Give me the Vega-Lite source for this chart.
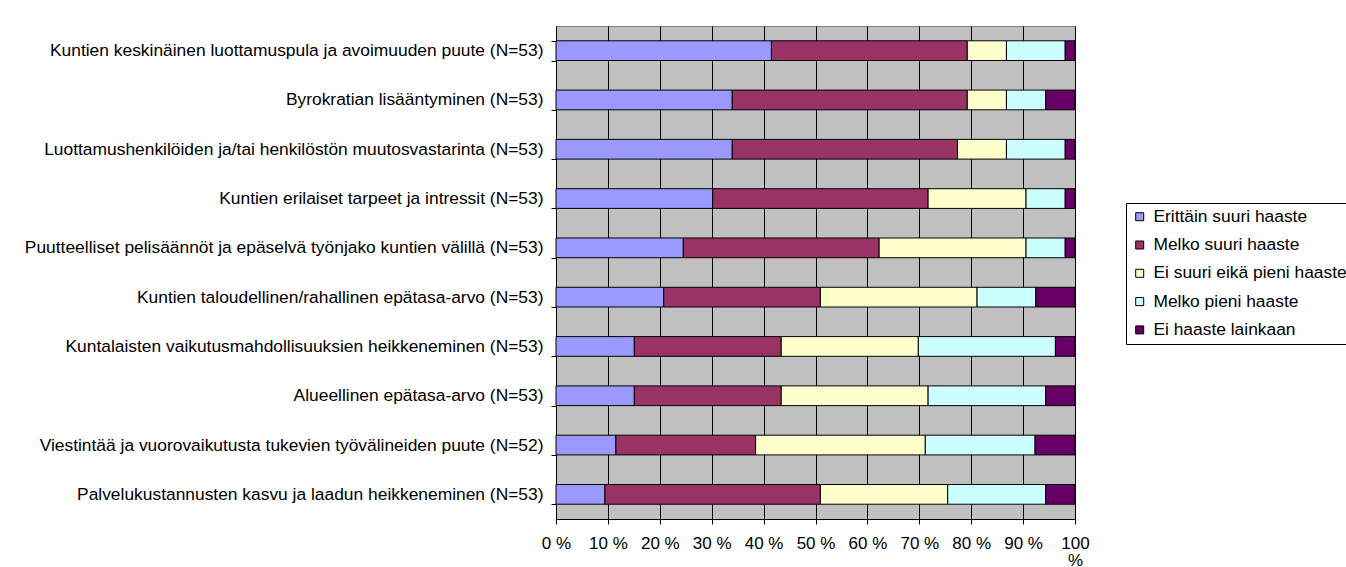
{
  "$schema": "https://vega.github.io/schema/vega-lite/v6.json",
  "width": 519,
  "height": 493,
  "autosize": {"type": "none"},
  "padding": {"left": 556, "top": 26, "right": 271, "bottom": 48},
  "background": "white",
  "config": {
    "font": "Liberation Sans",
    "view": {"fill": "#C0C0C0", "stroke": "#808080", "strokeWidth": 1}
  },
  "data": {
    "values": [
      {"kysymys": "Kuntien keskinäinen luottamuspula ja avoimuuden puute (N=53)", "vastaus": "Erittäin suuri haaste", "taso": 1, "lkm": 22},
      {"kysymys": "Kuntien keskinäinen luottamuspula ja avoimuuden puute (N=53)", "vastaus": "Melko suuri haaste", "taso": 2, "lkm": 20},
      {"kysymys": "Kuntien keskinäinen luottamuspula ja avoimuuden puute (N=53)", "vastaus": "Ei suuri eikä pieni haaste", "taso": 3, "lkm": 4},
      {"kysymys": "Kuntien keskinäinen luottamuspula ja avoimuuden puute (N=53)", "vastaus": "Melko pieni haaste", "taso": 4, "lkm": 6},
      {"kysymys": "Kuntien keskinäinen luottamuspula ja avoimuuden puute (N=53)", "vastaus": "Ei haaste lainkaan", "taso": 5, "lkm": 1},
      {"kysymys": "Byrokratian lisääntyminen (N=53)", "vastaus": "Erittäin suuri haaste", "taso": 1, "lkm": 18},
      {"kysymys": "Byrokratian lisääntyminen (N=53)", "vastaus": "Melko suuri haaste", "taso": 2, "lkm": 24},
      {"kysymys": "Byrokratian lisääntyminen (N=53)", "vastaus": "Ei suuri eikä pieni haaste", "taso": 3, "lkm": 4},
      {"kysymys": "Byrokratian lisääntyminen (N=53)", "vastaus": "Melko pieni haaste", "taso": 4, "lkm": 4},
      {"kysymys": "Byrokratian lisääntyminen (N=53)", "vastaus": "Ei haaste lainkaan", "taso": 5, "lkm": 3},
      {"kysymys": "Luottamushenkilöiden ja/tai henkilöstön muutosvastarinta (N=53)", "vastaus": "Erittäin suuri haaste", "taso": 1, "lkm": 18},
      {"kysymys": "Luottamushenkilöiden ja/tai henkilöstön muutosvastarinta (N=53)", "vastaus": "Melko suuri haaste", "taso": 2, "lkm": 23},
      {"kysymys": "Luottamushenkilöiden ja/tai henkilöstön muutosvastarinta (N=53)", "vastaus": "Ei suuri eikä pieni haaste", "taso": 3, "lkm": 5},
      {"kysymys": "Luottamushenkilöiden ja/tai henkilöstön muutosvastarinta (N=53)", "vastaus": "Melko pieni haaste", "taso": 4, "lkm": 6},
      {"kysymys": "Luottamushenkilöiden ja/tai henkilöstön muutosvastarinta (N=53)", "vastaus": "Ei haaste lainkaan", "taso": 5, "lkm": 1},
      {"kysymys": "Kuntien erilaiset tarpeet ja intressit (N=53)", "vastaus": "Erittäin suuri haaste", "taso": 1, "lkm": 16},
      {"kysymys": "Kuntien erilaiset tarpeet ja intressit (N=53)", "vastaus": "Melko suuri haaste", "taso": 2, "lkm": 22},
      {"kysymys": "Kuntien erilaiset tarpeet ja intressit (N=53)", "vastaus": "Ei suuri eikä pieni haaste", "taso": 3, "lkm": 10},
      {"kysymys": "Kuntien erilaiset tarpeet ja intressit (N=53)", "vastaus": "Melko pieni haaste", "taso": 4, "lkm": 4},
      {"kysymys": "Kuntien erilaiset tarpeet ja intressit (N=53)", "vastaus": "Ei haaste lainkaan", "taso": 5, "lkm": 1},
      {"kysymys": "Puutteelliset pelisäännöt ja epäselvä työnjako kuntien välillä (N=53)", "vastaus": "Erittäin suuri haaste", "taso": 1, "lkm": 13},
      {"kysymys": "Puutteelliset pelisäännöt ja epäselvä työnjako kuntien välillä (N=53)", "vastaus": "Melko suuri haaste", "taso": 2, "lkm": 20},
      {"kysymys": "Puutteelliset pelisäännöt ja epäselvä työnjako kuntien välillä (N=53)", "vastaus": "Ei suuri eikä pieni haaste", "taso": 3, "lkm": 15},
      {"kysymys": "Puutteelliset pelisäännöt ja epäselvä työnjako kuntien välillä (N=53)", "vastaus": "Melko pieni haaste", "taso": 4, "lkm": 4},
      {"kysymys": "Puutteelliset pelisäännöt ja epäselvä työnjako kuntien välillä (N=53)", "vastaus": "Ei haaste lainkaan", "taso": 5, "lkm": 1},
      {"kysymys": "Kuntien taloudellinen/rahallinen epätasa-arvo (N=53)", "vastaus": "Erittäin suuri haaste", "taso": 1, "lkm": 11},
      {"kysymys": "Kuntien taloudellinen/rahallinen epätasa-arvo (N=53)", "vastaus": "Melko suuri haaste", "taso": 2, "lkm": 16},
      {"kysymys": "Kuntien taloudellinen/rahallinen epätasa-arvo (N=53)", "vastaus": "Ei suuri eikä pieni haaste", "taso": 3, "lkm": 16},
      {"kysymys": "Kuntien taloudellinen/rahallinen epätasa-arvo (N=53)", "vastaus": "Melko pieni haaste", "taso": 4, "lkm": 6},
      {"kysymys": "Kuntien taloudellinen/rahallinen epätasa-arvo (N=53)", "vastaus": "Ei haaste lainkaan", "taso": 5, "lkm": 4},
      {"kysymys": "Kuntalaisten vaikutusmahdollisuuksien heikkeneminen (N=53)", "vastaus": "Erittäin suuri haaste", "taso": 1, "lkm": 8},
      {"kysymys": "Kuntalaisten vaikutusmahdollisuuksien heikkeneminen (N=53)", "vastaus": "Melko suuri haaste", "taso": 2, "lkm": 15},
      {"kysymys": "Kuntalaisten vaikutusmahdollisuuksien heikkeneminen (N=53)", "vastaus": "Ei suuri eikä pieni haaste", "taso": 3, "lkm": 14},
      {"kysymys": "Kuntalaisten vaikutusmahdollisuuksien heikkeneminen (N=53)", "vastaus": "Melko pieni haaste", "taso": 4, "lkm": 14},
      {"kysymys": "Kuntalaisten vaikutusmahdollisuuksien heikkeneminen (N=53)", "vastaus": "Ei haaste lainkaan", "taso": 5, "lkm": 2},
      {"kysymys": "Alueellinen epätasa-arvo (N=53)", "vastaus": "Erittäin suuri haaste", "taso": 1, "lkm": 8},
      {"kysymys": "Alueellinen epätasa-arvo (N=53)", "vastaus": "Melko suuri haaste", "taso": 2, "lkm": 15},
      {"kysymys": "Alueellinen epätasa-arvo (N=53)", "vastaus": "Ei suuri eikä pieni haaste", "taso": 3, "lkm": 15},
      {"kysymys": "Alueellinen epätasa-arvo (N=53)", "vastaus": "Melko pieni haaste", "taso": 4, "lkm": 12},
      {"kysymys": "Alueellinen epätasa-arvo (N=53)", "vastaus": "Ei haaste lainkaan", "taso": 5, "lkm": 3},
      {"kysymys": "Viestintää ja vuorovaikutusta tukevien työvälineiden puute (N=52)", "vastaus": "Erittäin suuri haaste", "taso": 1, "lkm": 6},
      {"kysymys": "Viestintää ja vuorovaikutusta tukevien työvälineiden puute (N=52)", "vastaus": "Melko suuri haaste", "taso": 2, "lkm": 14},
      {"kysymys": "Viestintää ja vuorovaikutusta tukevien työvälineiden puute (N=52)", "vastaus": "Ei suuri eikä pieni haaste", "taso": 3, "lkm": 17},
      {"kysymys": "Viestintää ja vuorovaikutusta tukevien työvälineiden puute (N=52)", "vastaus": "Melko pieni haaste", "taso": 4, "lkm": 11},
      {"kysymys": "Viestintää ja vuorovaikutusta tukevien työvälineiden puute (N=52)", "vastaus": "Ei haaste lainkaan", "taso": 5, "lkm": 4},
      {"kysymys": "Palvelukustannusten kasvu ja laadun heikkeneminen (N=53)", "vastaus": "Erittäin suuri haaste", "taso": 1, "lkm": 5},
      {"kysymys": "Palvelukustannusten kasvu ja laadun heikkeneminen (N=53)", "vastaus": "Melko suuri haaste", "taso": 2, "lkm": 22},
      {"kysymys": "Palvelukustannusten kasvu ja laadun heikkeneminen (N=53)", "vastaus": "Ei suuri eikä pieni haaste", "taso": 3, "lkm": 13},
      {"kysymys": "Palvelukustannusten kasvu ja laadun heikkeneminen (N=53)", "vastaus": "Melko pieni haaste", "taso": 4, "lkm": 10},
      {"kysymys": "Palvelukustannusten kasvu ja laadun heikkeneminen (N=53)", "vastaus": "Ei haaste lainkaan", "taso": 5, "lkm": 3}
    ]
  },
  "mark": {"type": "bar", "stroke": "black", "strokeWidth": 1},
  "encoding": {
    "y": {
      "field": "kysymys",
      "type": "nominal",
      "sort": null,
      "scale": {"paddingInner": 0.6, "paddingOuter": 0.3},
      "axis": {
        "title": null,
        "tickBand": "extent",
        "domainColor": "black",
        "tickColor": "black",
        "tickSize": 5,
        "labelPadding": 8,
        "labelFontSize": 17.4,
        "labelColor": "black",
        "labelLimit": 600,
        "grid": false
      }
    },
    "x": {
      "field": "lkm",
      "type": "quantitative",
      "stack": "normalize",
      "scale": {"domain": [0, 1], "nice": false},
      "axis": {
        "title": null,
        "values": [0, 0.1, 0.2, 0.3, 0.4, 0.5, 0.6, 0.7, 0.8, 0.9, 1],
        "labelExpr": "datum.value >= 0.999 ? ['100', '%'] : format(datum.value * 100, 'd') + ' %'",
        "labelFontSize": 17,
        "labelLineHeight": 17,
        "labelColor": "black",
        "labelPadding": 11,
        "labelFlush": false,
        "labelOverlap": false,
        "domainColor": "black",
        "tickColor": "black",
        "tickSize": 5,
        "grid": true,
        "gridColor": "black",
        "gridWidth": 1,
        "gridOpacity": 1
      }
    },
    "color": {
      "field": "vastaus",
      "type": "nominal",
      "sort": ["Erittäin suuri haaste", "Melko suuri haaste", "Ei suuri eikä pieni haaste", "Melko pieni haaste", "Ei haaste lainkaan"],
      "scale": {
        "domain": ["Erittäin suuri haaste", "Melko suuri haaste", "Ei suuri eikä pieni haaste", "Melko pieni haaste", "Ei haaste lainkaan"],
        "range": ["#9999FF", "#993366", "#FFFFCC", "#CCFFFF", "#660066"]
      },
      "legend": {
        "title": null,
        "orient": "none",
        "legendX": 570,
        "legendY": 177,
        "strokeColor": "black",
        "fillColor": "white",
        "padding": 5,
        "symbolType": "square",
        "symbolSize": 64,
        "symbolStrokeColor": "black",
        "symbolStrokeWidth": 1,
        "symbolOpacity": 1,
        "labelFontSize": 17.4,
        "labelColor": "black",
        "labelOffset": 5,
        "labelLimit": 400,
        "rowPadding": 9.3
      }
    },
    "order": {"field": "taso", "type": "quantitative"}
  }
}
